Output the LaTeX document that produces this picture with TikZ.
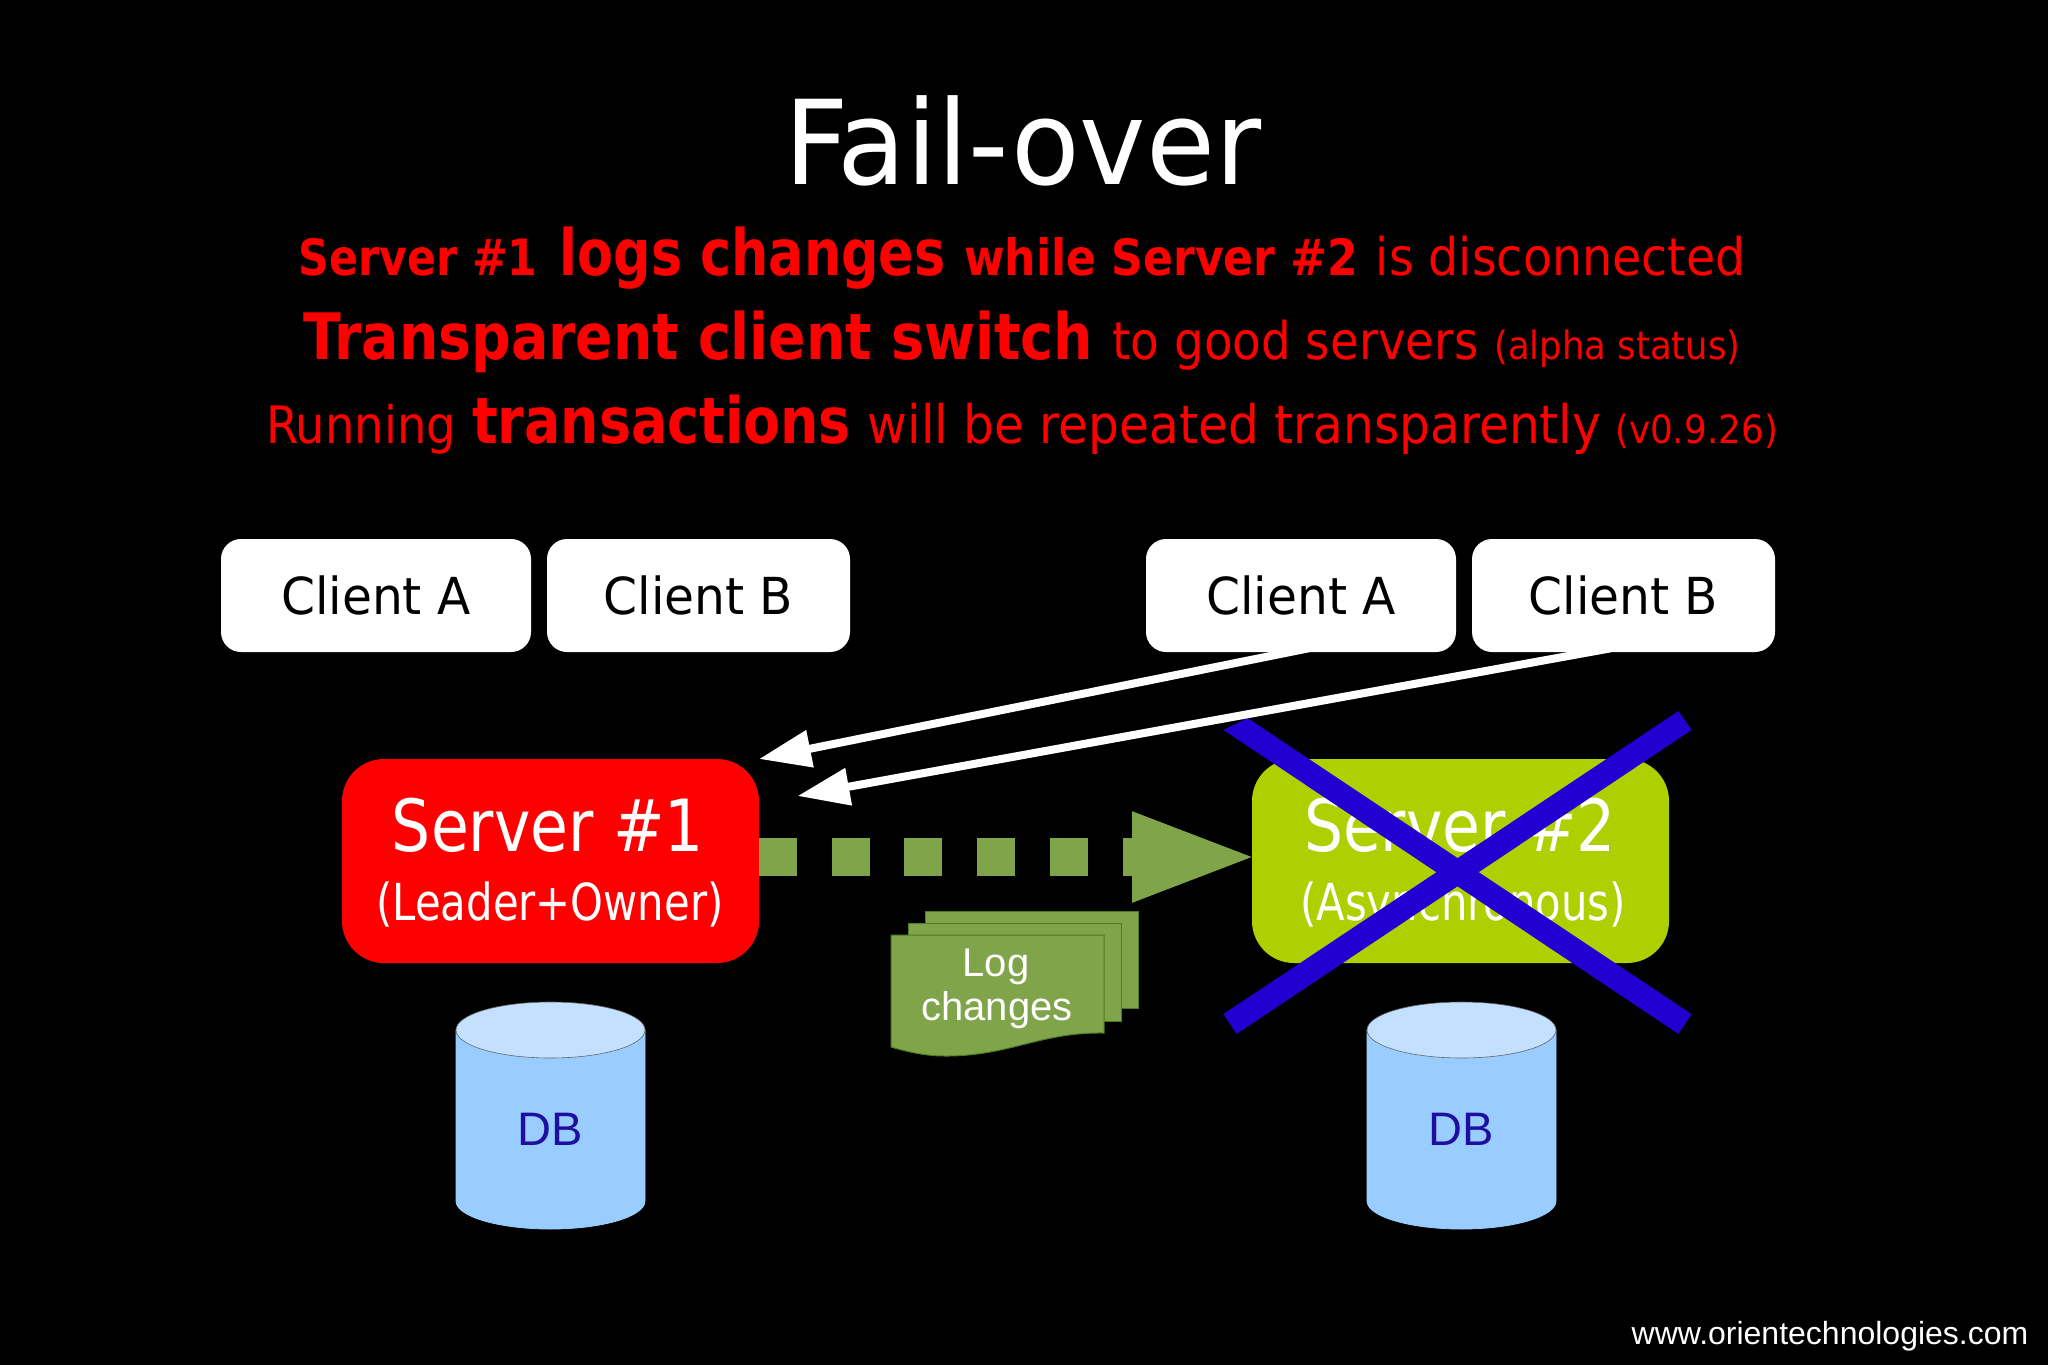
\documentclass[tikz,border=0pt]{standalone}
\usepackage{fontspec}
\setmainfont{DejaVu Sans Condensed}
\newfontfamily\arialf{Liberation Sans}
\usetikzlibrary{arrows.meta,shapes.geometric}
\definecolor{grn}{HTML}{7FA449}
\definecolor{grnedge}{HTML}{4E7A22}
\definecolor{lime}{HTML}{AFD000}
\definecolor{xblue}{HTML}{2200D2}
\definecolor{dbbody}{HTML}{99CCFF}
\definecolor{dbtop}{HTML}{C4E0FF}
\definecolor{dbtext}{HTML}{1F0F9F}
\newcommand{\fs}[1]{\fontsize{#1pt}{#1pt}\selectfont}
\newcommand{\st}[1]{\addfontfeature{FakeStretch=#1}}
\newcommand{\gap}[1]{\hspace*{#1pt}}
\tikzset{
  txt/.style={inner sep=0pt,outer sep=0pt,anchor=base},
  clientbox/.style={fill=white,rounded corners=10pt,inner sep=0pt,outer sep=0pt,minimum height=56.5pt},
  serverbox/.style={rounded corners=21pt,inner sep=0pt,outer sep=0pt,minimum width=208.5pt,minimum height=102pt},
  clienttxt/.style={txt,text=black,font=\fs{25.5}\st{1.06}},
  srvbig/.style={txt,text=white,font=\fs{36}\st{0.95}},
  srvsmall/.style={txt,text=white,font=\fs{25.5}\st{0.91}},
  redline/.style={txt,text=red},
  doc/.style={fill=grn,draw=grnedge,line width=0.5pt},
  dblabel/.style={txt,text=dbtext,font=\arialf\fs{23.5}},
  logtxt/.style={txt,text=white,font=\arialf\fs{20}},
  whitearrow/.style={draw=white,line width=4pt,-{Triangle[length=26pt,width=18pt]}},
  greenarrow/.style={draw=grn,line width=19pt,dash pattern=on 19pt off 17.35pt,shorten >=-4.5pt,-{Triangle[length=64.5pt,width=40pt]}},
  xband/.style={fill=xblue},
}
\newcommand{\dbshape}[1]{%
  \path[fill=dbbody,draw=dbbody] (#1-94.5,1030) -- (#1-94.5,1201) arc[start angle=180,end angle=360,x radius=47.25pt,y radius=14pt] -- (#1+94.5,1030) -- cycle;
  \path[fill=dbtop,draw=black!60,line width=0.3pt] (#1,1030) ellipse[x radius=47.25pt,y radius=14pt];
}
\begin{document}
\begin{tikzpicture}[x=0.5pt,y=-0.5pt]
\useasboundingbox (0,0) rectangle (2048,1365);
\fill[black] (0,0) rectangle (2048,1365);

\node[txt,text=white,font=\fs{58.5}\st{1.065}] (title) at (1023,184) {Fail-over};
\node[redline] (l1) at (1022,275) {{\bfseries\fs{25}\st{0.95}Server \#1}\gap{11}{\bfseries\fs{32}\st{0.91}logs changes}\gap{9.2}{\bfseries\fs{25}\st{0.98}while Server \#2}\gap{8.7}{\fs{26}\st{1.015}is disconnected}};
\node[redline] (l2) at (1022,359.5) {{\bfseries\fs{32}\st{0.96}Transparent client switch}\gap{10}{\fs{26}to good servers}\gap{8}{\fs{19.5}\st{1.01}(alpha status)}};
\node[redline] (l3) at (1022,443) {{\fs{25.8}Running}\gap{8}{\bfseries\fs{32}\st{0.935}transactions}\gap{8.5}{\fs{26.5}\st{1.02}will be repeated transparently}\gap{7}{\fs{19.5}\st{1.02}(v0.9.26)}};

\node[clientbox,minimum width=155pt] (c1a) at (376,595.5) {};
\node[clientbox,minimum width=151.5pt] (c1b) at (698.5,595.5) {};
\node[clientbox,minimum width=155pt] (c2a) at (1301,595.5) {};
\node[clientbox,minimum width=151.5pt] (c2b) at (1623.5,595.5) {};
\node[clienttxt] (t1a) at (376,614) {Client A};
\node[clienttxt] (t1b) at (698.5,614) {Client B};
\node[clienttxt] (t2a) at (1301,614) {Client A};
\node[clienttxt] (t2b) at (1623.5,614) {Client B};

\node[serverbox,fill=red] (s1) at (550.5,861) {};
\node[serverbox,fill=lime] (s2) at (1460.5,861) {};
\node[srvbig] (s1t) at (548,851) {Server \#1};
\node[srvsmall] (s1s) at (550,920) {(Leader+Owner)};
\node[srvbig] (s2t) at (1460,851) {Server \#2};
\node[srvsmall] (s2s) at (1463,920) {(Asynchronous)};

% blue cross
\fill[xband] (1223.4,729.9) -- (1247.6,718.1) -- (1691.6,1014.1) -- (1678.4,1033.9) -- cycle;
\fill[xband] (1678.4,711.1) -- (1691.6,729.9) -- (1236.6,1033.9) -- (1223.4,1014.1) -- cycle;

% connectors
\coordinate (a1s) at (1310,648);
\coordinate (a2s) at (1610,648.4);
\coordinate (a2e) at (797.5,796);
\coordinate (g1) at (759,857);
\coordinate (g2) at (1252,857);
\draw[whitearrow] (a1s) -- (s1.north east);
\draw[whitearrow] (a2s) -- (a2e);
\draw[greenarrow] (g1) -- (g2);

% log stack
\path[doc] (925,911) rectangle (1138,1008);
\path[doc] (908,923) rectangle (1121,1021);
\path[doc] (891,935) -- (1104,935) -- (1104,1033) .. controls (1040,1032) and (1010,1056) .. (946,1056) .. controls (925,1056) and (908,1052) .. (891,1047) -- cycle;
\node[logtxt] (lg1) at (996,976) {Log};
\node[logtxt] (lg2) at (997,1020) {changes};

% databases
\dbshape{550.5}
\dbshape{1461.5}
\node[dblabel] (db1) at (550,1145) {DB};
\node[dblabel] (db2) at (1461,1145) {DB};

\node[txt,text=white,font=\arialf\fs{16}] (www) at (1830,1344) {www.orientechnologies.com};
\end{tikzpicture}
\end{document}
